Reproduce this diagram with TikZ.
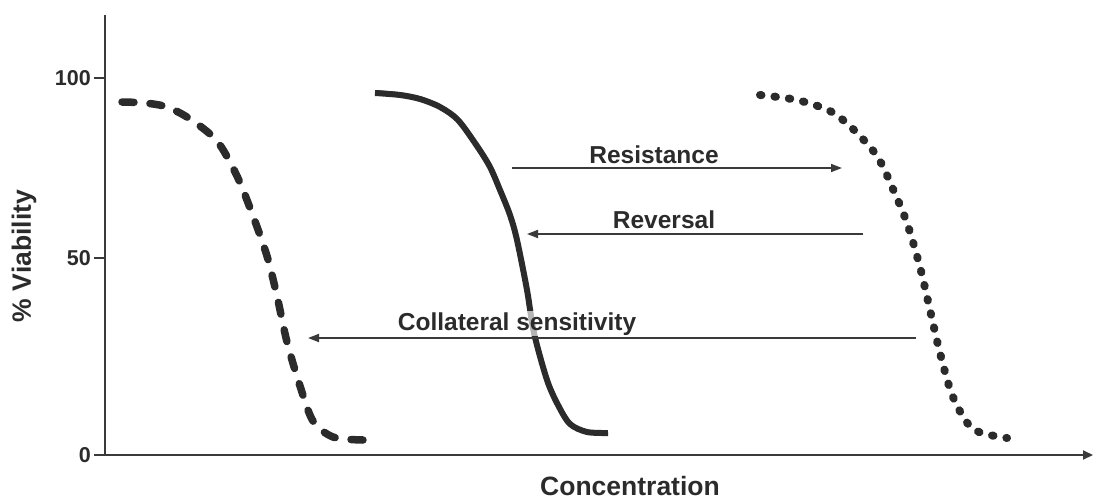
\documentclass[tikz,border=0pt]{standalone}
\usepackage{fontspec}
\setmainfont{Liberation Sans}
\usetikzlibrary{arrows.meta}
\definecolor{ink}{HTML}{2B2B2B}
\definecolor{axisgray}{HTML}{3A3A3A}
\begin{document}
\begin{tikzpicture}[x=1pt,y=-1pt,
  lbl/.style={font=\fontsize{24.5}{28}\selectfont\bfseries, text=ink, inner sep=1pt},
  ticklbl/.style={font=\fontsize{21.5}{24}\selectfont\bfseries, text=ink, anchor=east, inner sep=0pt},
  axtitle/.style={font=\fontsize{26.5}{30}\selectfont\bfseries, text=ink, inner sep=0pt},
  axisline/.style={draw=axisgray, line width=2pt},
  conn/.style={draw=axisgray, line width=1.8pt, -{Triangle[length=11pt,width=8pt]}},
  curve/.style={draw=ink, line width=7.5pt},
  dashcurve/.style={curve, line cap=round, dash pattern=on 12pt off 16pt},
  dotcurve/.style={curve, line width=8pt, line cap=round, dash pattern=on 1.5pt off 13pt},
  solidcurve/.style={curve, line width=6pt, line cap=butt}]
\useasboundingbox (0,0) rectangle (1094,500);
% axes
\coordinate (ytop) at (105,15);
\coordinate (origin) at (105,455);
\coordinate (xend) at (1093,455);
\draw[axisline] (ytop) -- (origin);
\draw[axisline, -{Triangle[length=10pt,width=9pt]}] (origin) -- (xend);
\foreach \yy in {78,258,455} {\draw[axisline] (94,\yy) -- (105,\yy);}
\node[ticklbl] (t100) at (91,78) {100};
\node[ticklbl] (t50) at (91,258) {50};
\node[ticklbl] (t0) at (91,455) {0};
\node[axtitle, rotate=90] (ylab) at (24,256) {\% Viability};
\node[axtitle, anchor=base] (xlab) at (630,495) {Concentration};
% curves
\draw[dashcurve] plot[smooth] coordinates {(122,102) (145,103) (167,107) (190,119) (217,141) (237,176) (253,216) (267,256) (277,296) (287,342) (300,386) (313,421) (333,437) (363,440)};
\draw[solidcurve] plot[smooth] coordinates {(375,93) (400,95) (420,99) (440,107) (458,120) (477,146) (490,167) (500,190) (510,215) (517,240) (527,290) (534,333) (547,380) (558,405) (570,424) (587,432) (608,433)};
\draw[curve, line width=2.5pt, line cap=round, shorten >=2pt] plot[smooth] coordinates {(377,91.5) (400,93.5) (420,97.5) (440,105)};
\draw[dotcurve] plot[smooth] coordinates {(760,95) (797,100) (830,111) (853,129) (877,156) (893,189) (907,223) (920,267) (930,310) (940,353) (953,397) (973,429) (1007,438)};
% arrows
\coordinate (resS) at (512,168);
\coordinate (resE) at (842,168);
\coordinate (revS) at (863,234);
\coordinate (revE) at (527,234);
\coordinate (colS) at (916,338);
\coordinate (colE) at (308,338);
\draw[conn] (resS) -- (resE);
\draw[conn] (revS) -- (revE);
\node[lbl, anchor=base] (resT) at (654,163) {Resistance};
\node[lbl, anchor=base] (revT) at (664,228) {Reversal};
\node[lbl, anchor=base, fill=white, fill opacity=0.65, text opacity=1] (colT) at (517,330) {Collateral sensitivity};
\draw[conn] (colS) -- (colE);
\end{tikzpicture}
\end{document}
